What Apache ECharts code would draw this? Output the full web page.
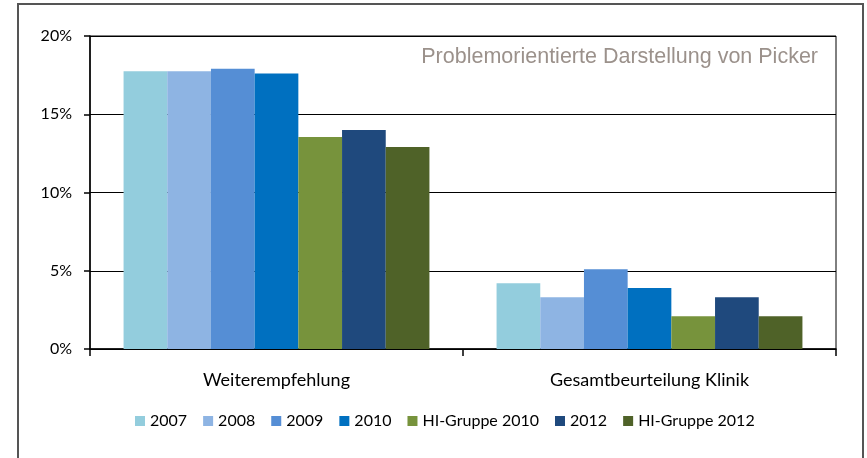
<!DOCTYPE html>
<html>
<head>
<meta charset="utf-8">
<script src="https://cdn.jsdelivr.net/npm/echarts@6/dist/echarts.min.js"></script>
<style>
    html, body { margin: 0; padding: 0; background: #fff; }
    #chart { width: 867px; height: 458px; }
</style>
</head>
<body>
<div id="chart"></div>
<script>
    // Daten (Prozent)
    const categories = ['Weiterempfehlung', 'Gesamtbeurteilung Klinik'];
    const seriesNames = ['2007', '2008', '2009', '2010', 'HI-Gruppe 2010', '2012', 'HI-Gruppe 2012'];
    const values2007 = [17.75, 4.2];
    const values2008 = [17.75, 3.3];
    const values2009 = [17.9, 5.1];
    const values2010 = [17.6, 3.9];
    const valuesHI2010 = [13.55, 2.1];
    const values2012 = [14.0, 3.3];
    const valuesHI2012 = [12.9, 2.1];
    const yTicks = [0, 5, 10, 15, 20];

    const colors = ['#93cddd', '#8eb4e3', '#558ed5', '#0070c0', '#77933c', '#1f497d', '#4f6228'];
    const allValues = [values2007, values2008, values2009, values2010, valuesHI2010, values2012, valuesHI2012];

    let myChart = echarts.init(document.getElementById('chart'));
    let option = {
        color: colors,
        animation: false,
        textStyle: { fontFamily: 'Lato' },
        title: {
            text: 'Problemorientierte Darstellung von Picker',
            right: 44,
            top: 41,
            textStyle: {
                color: '#9b918b',
                fontSize: 21.5,
                fontWeight: 'normal',
                fontFamily: 'Liberation Sans'
            }
        },
        graphic: [
            {
                // äußerer Rahmen
                type: 'rect',
                shape: { x: 18, y: 4, width: 845, height: 470 },
                style: { fill: 'none', stroke: '#555', lineWidth: 2 },
                silent: true
            }
        ],
        legend: {
            left: 130,
            top: 408,
            itemWidth: 10,
            itemHeight: 10,
            itemGap: 16,
            icon: 'rect',
            textStyle: { fontSize: 16, color: '#000', fontFamily: 'Lato' },
            data: seriesNames
        },
        grid: {
            left: 90,
            right: 31,
            top: 36,
            bottom: 109,
            show: true,
            borderColor: '#000',
            borderWidth: 1
        },
        xAxis: {
            type: 'category',
            data: categories,
            axisLine: { lineStyle: { color: '#000', width: 1.5 } },
            axisTick: { show: true, alignWithLabel: false, length: 7, lineStyle: { color: '#000', width: 1.5 } },
            axisLabel: { color: '#000', fontSize: 18, margin: 22 }
        },
        yAxis: {
            type: 'value',
            min: yTicks[0],
            max: yTicks[yTicks.length - 1],
            interval: 5,
            axisLine: { show: true, lineStyle: { color: '#000', width: 1.5 } },
            axisTick: { show: true, length: 6, lineStyle: { color: '#000', width: 1.5 } },
            splitLine: { lineStyle: { color: '#000', width: 1 } },
            axisLabel: { color: '#000', fontSize: 16, margin: 18, formatter: '{value}%' }
        },
        series: seriesNames.map(function (name, i) {
            return {
                name: name,
                type: 'bar',
                barGap: '0%',
                barCategoryGap: '18%',
                data: allValues[i]
            };
        })
    };
    myChart.setOption(option);
</script>
</body>
</html>
